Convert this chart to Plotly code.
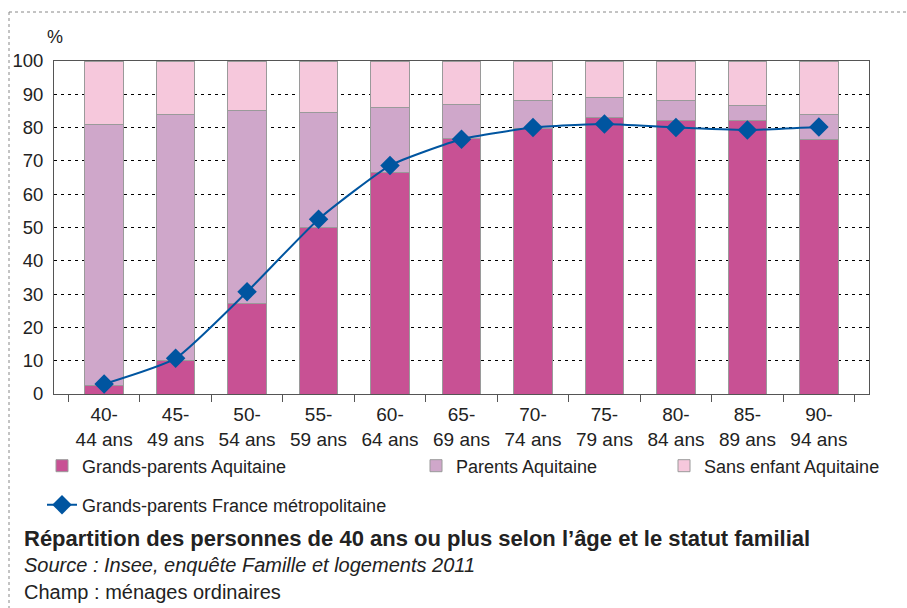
import plotly.graph_objects as go

categories = ["40-<br>44 ans", "45-<br>49 ans", "50-<br>54 ans", "55-<br>59 ans", "60-<br>64 ans",
              "65-<br>69 ans", "70-<br>74 ans", "75-<br>79 ans", "80-<br>84 ans", "85-<br>89 ans",
              "90-<br>94 ans"]
grands_parents_aq = [2.7, 10.0, 27.2, 49.9, 66.6, 76.6, 79.8, 83.1, 82.1, 82.1, 76.3]
parents_aq = [78.1, 74.0, 57.8, 34.6, 19.3, 10.2, 8.2, 5.8, 5.9, 4.4, 7.5]
sans_enfant_aq = [19.2, 16.0, 15.0, 15.5, 14.1, 13.2, 12.0, 11.1, 12.0, 13.5, 16.2]
grands_parents_fr = [3.0, 10.7, 30.7, 52.5, 68.6, 76.5, 80.0, 81.1, 80.0, 79.3, 80.2]
y_ticks = [0, 10, 20, 30, 40, 50, 60, 70, 80, 90, 100]

FONT = "Liberation Sans, Arial, sans-serif"
TXT = "#222222"

# plot area in pixels
L, R, T, B = 54, 869, 61, 394
W, H = 907, 608
PW, PH = R - L, B - T


def px(x):
    return (x - L) / PW


def py(y):
    return (B - y) / PH


fig = go.Figure()
bar_line = dict(color="#9a9a9a", width=1)
fig.add_trace(go.Bar(x=categories, y=grands_parents_aq, name="Grands-parents Aquitaine",
                     marker=dict(color="#C85194", line=bar_line), width=0.54, legend="legend"))
fig.add_trace(go.Bar(x=categories, y=parents_aq, name="Parents Aquitaine",
                     marker=dict(color="#CFA7CA", line=bar_line), width=0.54, legend="legend2"))
fig.add_trace(go.Bar(x=categories, y=sans_enfant_aq, name="Sans enfant Aquitaine",
                     marker=dict(color="#F6C8DC", line=bar_line), width=0.54, legend="legend3"))
fig.add_trace(go.Scatter(x=categories, y=grands_parents_fr, name="Grands-parents France métropolitaine",
                         mode="lines+markers", line=dict(color="#0055A0", width=2, shape="spline", smoothing=0.5),
                         marker=dict(symbol="diamond", size=15, color="#0055A0"), legend="legend4"))

leg_common = dict(font=dict(family=FONT, size=18, color=TXT), bgcolor="rgba(0,0,0,0)",
                  xanchor="left", yanchor="middle", orientation="h")

fig.update_layout(
    width=W, height=H,
    margin=dict(l=L, r=W - R, t=T, b=H - B),
    barmode="stack",
    plot_bgcolor="white", paper_bgcolor="white",
    font=dict(family=FONT, size=19, color=TXT),
    legend=dict(x=px(42), y=py(466), **leg_common),
    legend2=dict(x=px(416), y=py(466), **leg_common),
    legend3=dict(x=px(664), y=py(466), **leg_common),
    legend4=dict(x=px(42), y=py(505), **leg_common),
    xaxis=dict(showline=True, linecolor="#555555", linewidth=1, mirror=True,
               ticks="outside", tickson="boundaries", ticklen=7, tickcolor="#555555",
               ticklabelstandoff=3,
               tickfont=dict(family=FONT, size=19, color=TXT), showgrid=False),
    yaxis=dict(range=[0, 100], tickvals=y_ticks, showline=True, linecolor="#555555", linewidth=1, mirror=True,
               showgrid=True, gridcolor="#000000", gridwidth=1, griddash="3px,4px",
               ticklabelstandoff=6,
               tickfont=dict(family=FONT, size=18.5, color=TXT), ticks="", zeroline=False),
    showlegend=True,
)

annotations = [
    dict(text="%", x=px(45), y=py(37), xanchor="left", yanchor="middle",
         font=dict(family=FONT, size=18, color=TXT)),
    dict(text="<b>Répartition des personnes de 40 ans ou plus selon l’âge et le statut familial</b>",
         x=px(22), y=py(538), xanchor="left", yanchor="middle",
         font=dict(family=FONT, size=22, color=TXT)),
    dict(text="<i>Source : Insee, enquête Famille et logements 2011</i>",
         x=px(22), y=py(565), xanchor="left", yanchor="middle",
         font=dict(family=FONT, size=20, color=TXT)),
    dict(text="Champ : ménages ordinaires",
         x=px(22), y=py(592), xanchor="left", yanchor="middle",
         font=dict(family=FONT, size=20, color=TXT)),
]
for a in annotations:
    a.update(xref="paper", yref="paper", showarrow=False)
fig.update_layout(annotations=annotations)

frame = dict(color="#888888", width=1, dash="dot")
fig.add_shape(type="line", xref="paper", yref="paper", x0=px(9), x1=px(907), y0=py(12), y1=py(12), line=frame)
fig.add_shape(type="line", xref="paper", yref="paper", x0=px(9), x1=px(9), y0=py(12), y1=py(608), line=frame)

fig.write_html("out.html", config={"displayModeBar": False},
               post_script="document.body.style.margin='0px';document.body.style.overflow='hidden';")
